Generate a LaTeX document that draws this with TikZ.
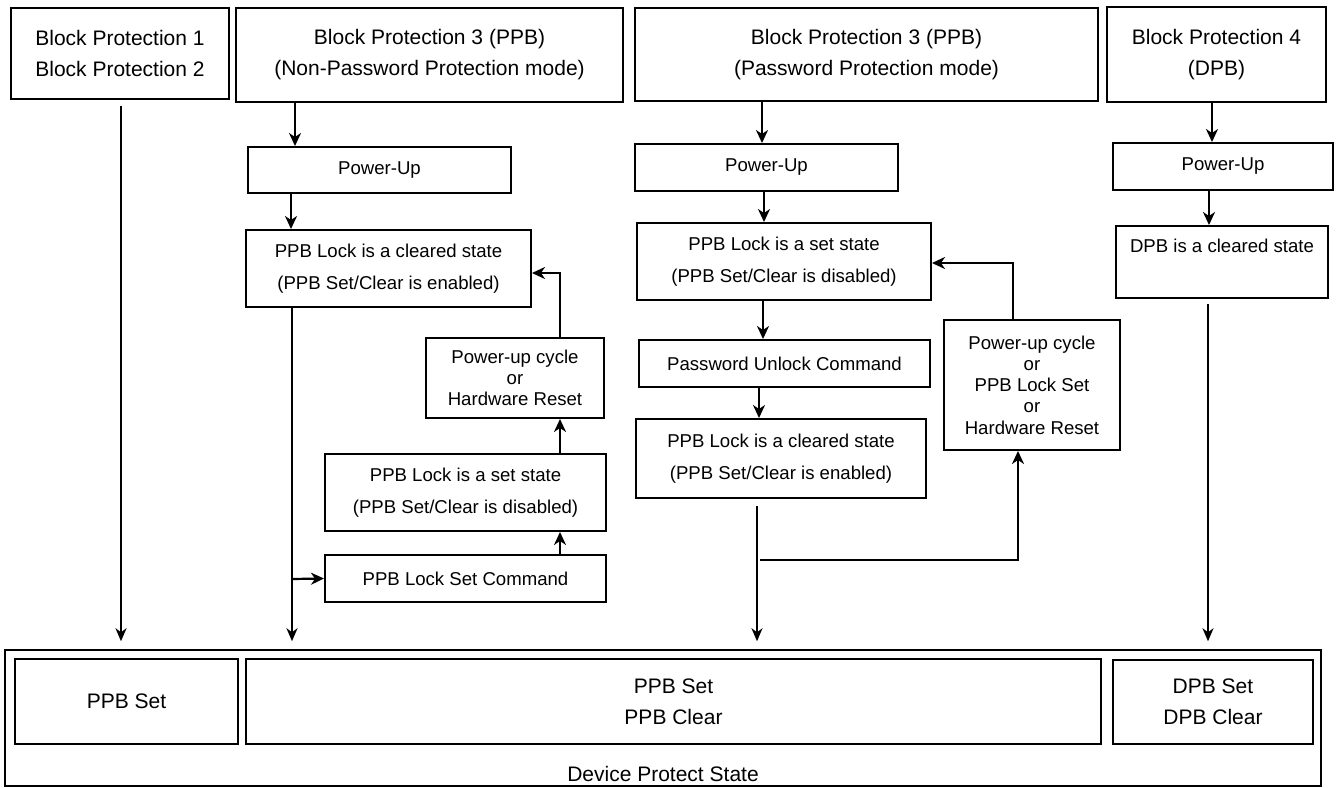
\documentclass[tikz,border=0pt]{standalone}
\usepackage{fontspec}
\setmainfont{Liberation Sans}
\usetikzlibrary{arrows.meta,calc}
\begin{document}
\begin{tikzpicture}[x=1pt,y=-1pt,
 box/.style={draw,line width=2pt,inner sep=0pt,align=center,anchor=center},
 big/.style={font=\fontsize{21}{31}\selectfont},
 small/.style={font=\fontsize{18.6}{32}\selectfont},
 tight/.style={font=\fontsize{18.6}{21.3}\selectfont},
 arr/.style={line width=2.2pt,-{Stealth[length=13pt,width=12pt,inset=4pt]}},
 longarr/.style={line width=1.8pt,-{Stealth[length=13pt,width=11pt,inset=4pt]}},
 ln/.style={line width=2pt}]
\useasboundingbox (0,0) rectangle (1338,787);

% top boxes
\node[box,big,minimum width=218pt,minimum height=91pt] (b1) at (120,53.5) {Block Protection 1\\Block Protection 2};
\node[box,big,minimum width=387pt,minimum height=94pt] (b3a) at (429.5,55) {Block Protection 3 (PPB)\\(Non-Password Protection mode)};
\node[box,big,minimum width=463pt,minimum height=93pt] (b3b) at (866.5,54.5) {Block Protection 3 (PPB)\\(Password Protection mode)};
\node[box,big,minimum width=219pt,minimum height=95pt] (b4) at (1216.5,54.5) {Block Protection 4\\(DPB)};

% left column
\node[box,small,minimum width=263pt,minimum height=46pt] (pu1) at (379.5,170) {Power-Up};
\node[box,small,minimum width=285pt,minimum height=77pt] (clr1) at (388.5,268.5) {PPB Lock is a cleared state\\(PPB Set/Clear is enabled)};
\node[box,tight,minimum width=178pt,minimum height=80pt] (puc1) at (515,378) {Power-up cycle\\or\\Hardware Reset};
\node[box,small,minimum width=281pt,minimum height=77pt] (set1) at (465.5,492.5) {PPB Lock is a set state\\(PPB Set/Clear is disabled)};
\node[box,small,minimum width=281pt,minimum height=47pt] (lsc) at (465.5,578.5) {PPB Lock Set Command};

% middle column
\node[box,small,minimum width=263pt,minimum height=47pt] (pu2) at (766.5,167.5) {Power-Up};
\node[box,small,minimum width=294pt,minimum height=77pt] (set2) at (784,261.5) {PPB Lock is a set state\\(PPB Set/Clear is disabled)};
\node[box,small,minimum width=291pt,minimum height=47pt] (pwu) at (784.5,363.5) {Password Unlock Command};
\node[box,small,minimum width=290pt,minimum height=79pt] (clr2) at (781,458.5) {PPB Lock is a cleared state\\(PPB Set/Clear is enabled)};
\node[box,tight,minimum width=176pt,minimum height=130pt] (puc2) at (1032,385) {Power-up cycle\\or\\PPB Lock Set\\or\\Hardware Reset};

% right column
\node[box,small,minimum width=220pt,minimum height=47pt] (pu3) at (1223,166.5) {Power-Up};
\node[box,small,minimum width=212pt,minimum height=72pt] (dpb) at (1222,262) {DPB is a cleared state\\~};

% bottom
\node[box,line width=1.5pt,minimum width=1316pt,minimum height=136pt] (outer) at (663,718) {};
\node[big,inner sep=0pt] (dps) at (663,774) {Device Protect State};
\node[box,big,minimum width=223pt,minimum height=85pt] (ppbset) at (126.5,701.5) {PPB Set};
\node[box,big,minimum width=855pt,minimum height=85pt] (ppbsc) at (673.5,701.5) {PPB Set\\PPB Clear};
\node[box,big,minimum width=200pt,minimum height=84pt] (dpbsc) at (1213,702) {DPB Set\\DPB Clear};

% x positions of connectors
\coordinate (xo) at (121,0);
\coordinate (xa) at (295,0);
\coordinate (xb) at (291,0);
\coordinate (xc) at (292,0);
\coordinate (xd) at (560,0);
\coordinate (xe) at (762,0);
\coordinate (xf) at (764,0);
\coordinate (xg) at (763,0);
\coordinate (xh) at (759,0);
\coordinate (xi) at (757,0);
\coordinate (xj) at (1018,0);
\coordinate (xk) at (1013,0);
\coordinate (xl) at (1212,0);
\coordinate (xm) at (1209,0);
\coordinate (xn) at (1208,0);
\coordinate (ret1) at (0,273);
\coordinate (ret2) at (0,263);
\coordinate (br1) at (292,579);
\coordinate (br2) at (760,560);

% block protection 1/2
\draw[longarr,shorten <=6pt,shorten >=8pt] (b1.south -| xo) -- (xo |- outer.north);

% left column
\draw[arr] (b3a.south -| xa) -- (pu1.north -| xa);
\draw[arr] (pu1.south -| xb) -- (clr1.north -| xb);
\draw[longarr,shorten >=8pt] (clr1.south -| xc) -- (xc |- outer.north);
\draw[arr] (br1) -- (lsc.west);
\draw[arr] (lsc.north -| xd) -- (set1.south -| xd);
\draw[arr] (set1.north -| xd) -- (puc1.south -| xd);
\draw[arr] (puc1.north -| xd) |- (clr1.east |- ret1);

% middle column
\draw[arr] (b3b.south -| xe) -- (pu2.north -| xe);
\draw[arr] (pu2.south -| xf) -- (set2.north -| xf);
\draw[arr] (set2.south -| xg) -- (pwu.north -| xg);
\draw[arr] (pwu.south -| xh) -- (clr2.north -| xh);
\draw[longarr,shorten <=7pt,shorten >=8pt] (clr2.south -| xi) -- (xi |- outer.north);
\draw[arr] (br2) -| (puc2.south -| xj);
\draw[arr] (puc2.north -| xk) |- (set2.east |- ret2);

% right column
\draw[arr] (b4.south -| xl) -- (pu3.north -| xl);
\draw[arr] (pu3.south -| xm) -- (dpb.north -| xm);
\draw[longarr,shorten <=5pt,shorten >=8pt] (dpb.south -| xn) -- (xn |- outer.north);
\end{tikzpicture}
\end{document}
